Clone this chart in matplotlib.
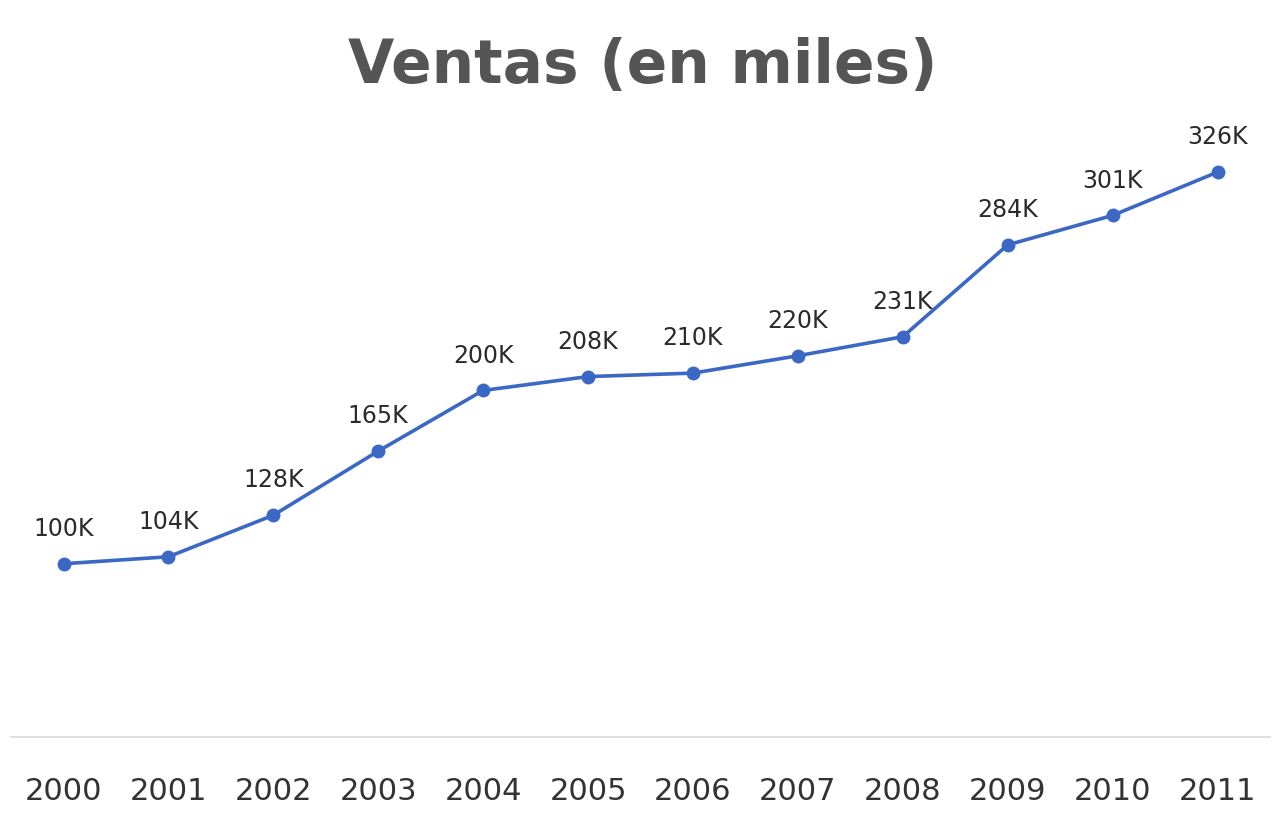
import matplotlib.pyplot as plt

# Datos
years = ['2000', '2001', '2002', '2003', '2004', '2005',
         '2006', '2007', '2008', '2009', '2010', '2011']
sales = [100, 104, 128, 165, 200, 208, 210, 220, 231, 284, 301, 326]
labels = [f'{v}K' for v in sales]

plt.rcParams['font.family'] = ['DejaVu Sans']

fig = plt.figure(figsize=(12.85, 8.16), dpi=100)
ax = fig.add_axes([0.0086, 0.0968, 0.9797, 0.756])

x = list(range(len(years)))
ax.plot(x, sales, color='#3a68c4', linewidth=2.6, marker='o',
        markersize=9, zorder=3)

# Etiquetas de datos
for xi, v, lab in zip(x, sales, labels):
    ax.annotate(lab, (xi, v), xytext=(0, 20), textcoords='offset points',
                ha='center', va='baseline', fontsize=17, color='#2b2b2b')

ax.set_xlim(-0.5, 11.5)
ax.set_ylim(0, 356)
ax.set_xticks(x)
ax.set_xticklabels(years, fontsize=22, color='#333333')
ax.tick_params(axis='x', length=0, pad=29)
ax.set_yticks([])

for s in ['top', 'right', 'left']:
    ax.spines[s].set_visible(False)
ax.spines['bottom'].set_color('#d9d9d9')
ax.spines['bottom'].set_linewidth(1.2)

fig.text(0.5, 0.918, 'Ventas (en miles)', ha='center', va='center',
         fontsize=43, fontweight='bold', color='#555555')

fig.savefig('out.png', dpi=100, facecolor='white')
